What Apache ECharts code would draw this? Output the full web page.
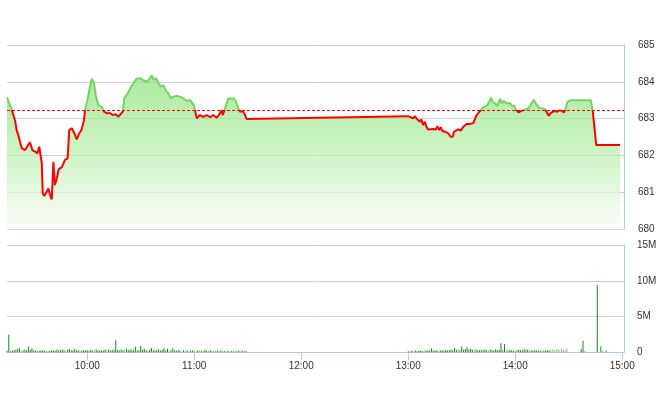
<!DOCTYPE html>
<html><head><meta charset="utf-8">
<script src="https://cdn.jsdelivr.net/npm/echarts@6/dist/echarts.min.js"></script>
<style>html,body{margin:0;padding:0;background:#fff}#c{width:660px;height:412px}</style>
</head><body><div id="c"></div>
<script>
// reference (previous close) level
const refPrice = 683.24;

// price line: time (minutes since midnight) and index value
const priceTimes = [555,557.6,559.5,560.4,561.3,563.2,565.1,566.0,567.9,569.2,570.7,572.0,573.1,573.9,574.5,575.0,575.9,577.3,578.2,579.1,580.1,581.0,581.9,582.9,584.0,585.7,587.5,589.0,589.9,591.3,592.6,594.1,595.5,596.7,598.2,598.7,600.0,601.2,602.5,603.8,604.9,606.2,608.1,609.4,610.9,612.8,614.3,616.1,617.4,618.8,619.9,620.8,622.1,624.0,625.8,627.7,629.6,631.4,633.4,635.2,636.2,637.4,638.6,639.9,641.2,642.7,644.2,645.5,646.8,648.3,650.2,652.0,653.9,655.8,657.6,659.5,660.4,661.4,663.2,665.1,667.0,668.9,670.5,672.6,674.1,675.4,676.0,677.3,679.1,681.0,682.3,683.4,684.7,685.7,687.2,688.5,689.4,690,
780,782.8,783.7,784.6,785.5,786.5,787.4,788.3,789.3,790.2,791.1,792.2,794.0,795.6,796.3,797.4,798.2,799.4,800.6,802.5,803.8,805.0,805.7,806.8,808.1,809.5,810.9,812.8,814.7,816.5,817.5,818.4,819.9,821.8,823.1,824.4,825.5,826.5,827.4,828.7,830.0,831.5,832.5,833.7,835.3,837.1,838.1,839.4,840.5,841.8,842.7,844.6,846.1,847.4,848.7,850.2,851.1,852.1,853.5,854.9,856.7,857.7,858.8,859.9,861.1,862.3,863.6,865.1,866.1,867.4,868.0,869.3,870.9,882.4,883.5,885.4,898.8];
const priceValues = [683.58,683.24,682.96,682.69,682.56,682.20,682.15,682.11,682.36,682.15,682.11,682.06,682.24,682.29,681.79,680.98,680.90,681.02,681.11,680.93,680.81,681.83,681.20,681.38,681.63,681.68,681.88,681.93,682.69,682.74,682.62,682.44,682.60,682.69,682.96,683.22,683.49,683.78,684.08,683.96,683.60,683.37,683.33,683.19,683.15,683.15,683.10,683.12,683.05,683.13,683.19,683.55,683.64,683.81,683.96,684.08,684.10,684.05,684.00,684.10,684.17,684.05,684.10,683.96,683.87,683.90,683.75,683.69,683.55,683.60,683.62,683.60,683.55,683.48,683.51,683.39,683.24,683.01,683.10,683.05,683.10,683.04,683.10,683.03,683.12,683.24,683.10,683.28,683.55,683.54,683.55,683.46,683.28,683.19,683.21,683.10,682.99,682.98,
683.07,683.01,683.07,683.01,683.05,682.92,682.98,682.83,682.92,682.78,682.71,682.69,682.72,682.71,682.80,682.69,682.77,682.65,682.65,682.60,682.51,682.51,682.65,682.62,682.71,682.68,682.78,682.86,682.86,682.88,683.01,683.10,683.19,683.30,683.33,683.37,683.46,683.57,683.46,683.42,683.35,683.54,683.42,683.48,683.42,683.42,683.35,683.35,683.24,683.17,683.21,683.24,683.26,683.28,683.37,683.51,683.48,683.37,683.30,683.28,683.26,683.21,683.08,683.15,683.19,683.21,683.19,683.24,683.19,683.17,683.24,683.46,683.50,683.50,683.19,682.29,682.29];

// per-minute volume (millions), morning session from 9:15, afternoon from 13:00
const amStart = 555;
const volAm = [0.20,2.50,0.15,0.25,0.30,0.35,0.50,0.55,0.30,0.25,0.35,0.30,0.80,0.35,0.55,0.30,0.25,0.30,0.20,0.25,0.30,0.20,0.15,0.25,0.20,0.30,0.25,0.20,0.35,0.25,0.30,0.40,0.30,0.25,0.35,0.45,0.30,0.25,0.45,0.20,0.30,0.25,0.20,0.30,0.25,0.30,0.20,0.35,0.25,0.30,0.40,0.25,0.30,0.20,0.25,0.35,0.30,0.40,0.25,0.30,0.35,1.70,0.30,0.25,0.40,0.30,0.35,0.45,0.30,0.40,0.30,0.35,0.80,0.25,0.30,0.90,0.35,0.50,0.30,0.25,0.35,0.60,0.30,0.25,0.30,0.40,0.25,0.35,0.55,0.30,0.50,0.25,0.30,0.55,0.25,0.20,0.30,0.25,0.15,0.30,0.20,0.25,0.15,0.20,0.25,0.30,0.20,0.25,0.30,0.20,0.25,0.35,0.20,0.25,0.30,0.20,0.15,0.25,0.20,0.30,0.25,0.20,0.15,0.25,0.20,0.15,0.20,0.25,0.15,0.20,0.25,0.15,0.20,0.25,0.20];
const pmStart = 780;
const volPm = [0.15,0.10,0.20,0.15,0.25,0.15,0.20,0.25,0.15,0.20,0.30,0.20,0.25,0.55,0.25,0.20,0.30,0.20,0.25,0.30,0.20,0.35,0.25,0.30,0.40,0.30,0.60,0.35,0.40,0.30,0.80,0.35,0.45,0.70,0.40,0.50,0.35,0.30,0.40,0.25,0.30,0.35,0.30,0.40,0.30,0.25,0.35,0.30,0.25,0.40,0.30,0.35,1.25,0.30,1.15,0.30,0.25,0.35,0.30,0.20,0.30,0.25,0.35,0.30,0.25,0.50,0.30,0.35,0.25,0.30,0.20,0.30,0.25,0.20,0.25,0.30,0.20,0.25,0.30,0.25,0.35,0.45,0.30,0.40,0.50,0.35,0.45,0.40,0.30,0.50,0,0,0,0,0,0,0,0.45,1.60,0.10,0,0,0,0,0,0,9.40,0,0.80,0.10,0,0.20,0,0,0,0,0,0.05,0,0];
// minutes whose volume bar is drawn in the lighter green
const lightAm = [8,17,23,33,41,49,56,66,79,91,98,100,102,105,106,108,110,113,115,117,119,121,123,125,127,129,131,133];
const lightPm = [3,9,17,28,37,45,55,60,68,75,80,81,82,83,84,85,86,87,88,89];

const hourTicks = [600,660,720,780,840,900];

function hhmm(m){const h=Math.floor(m/60),mm=Math.round(m%60);return h+':'+(mm<10?'0':'')+mm;}

const linePts = priceTimes.map((t,i)=>[t,priceValues[i]]);
const darkBars=[], lightBars=[];
function addBars(start, vols, lights){
  vols.forEach((v,i)=>{
    if(!v) return;
    (lights.indexOf(i)>=0?lightBars:darkBars).push([start+i, v]);
  });
}
addBars(amStart, volAm, lightAm);
addBars(pmStart, volPm, lightPm);

const axisBlue = '#b8cadf';
const gridGray = '#cfcfcf';
const labelStyle = {color:'#333', fontSize:10, fontFamily:'Liberation Sans, Arial, sans-serif'};

const chart = echarts.init(document.getElementById('c'), null, {renderer:'canvas'});
chart.setOption({
  animation:false,
  backgroundColor:'#fff',
  grid:[
    {left:7, right:36, top:45, height:184.3},
    {left:7, right:36, top:245, height:107.3}
  ],
  xAxis:[
    {gridIndex:0, type:'value', min:555, max:901, show:false, splitLine:{show:false}},
    {gridIndex:1, type:'value', min:555, max:901,
      axisLine:{show:true, lineStyle:{color:axisBlue, width:1}},
      axisTick:{show:true, customValues:hourTicks, length:8, lineStyle:{color:axisBlue}},
      axisLabel:Object.assign({customValues:hourTicks, margin:9, formatter:v=>hhmm(v)}, labelStyle),
      splitLine:{show:false}}
  ],
  yAxis:[
    {gridIndex:0, type:'value', position:'right', min:680, max:685, interval:1,
      axisLine:{show:true, lineStyle:{color:axisBlue}},
      axisTick:{show:false},
      axisLabel:Object.assign({margin:14, formatter:v=>String(v)}, labelStyle),
      splitLine:{show:true, lineStyle:{color:gridGray, width:1}}},
    {gridIndex:1, type:'value', position:'right', min:0, max:15, interval:5,
      axisLine:{show:true, lineStyle:{color:axisBlue}},
      axisTick:{show:false},
      axisLabel:Object.assign({margin:13, formatter:v=>v===0?'0':v+'M'}, labelStyle),
      splitLine:{show:true, lineStyle:{color:gridGray, width:1}}}
  ],
  visualMap:{
    show:false, type:'piecewise', seriesIndex:0, dimension:1,
    pieces:[{min:670, max:refPrice, color:'#ff0000'},{min:refPrice, max:700, color:'#6fd660'}],
    outOfRange:{color:'#6fd660'}
  },
  series:[
    {type:'line', xAxisIndex:0, yAxisIndex:0, data:linePts, showSymbol:false, symbol:'none',
      lineStyle:{width:2},
      areaStyle:{origin:'start', color:new echarts.graphic.LinearGradient(0,0,0,1,[
        {offset:0, color:'#8be27a'},
        {offset:0.45, color:'#b3eda6'},
        {offset:1, color:'#f8fdf7'}
      ])},
      markLine:{silent:true, symbol:'none', label:{show:false},
        lineStyle:{color:'#ff0000', type:[3,2], width:1},
        data:[{yAxis:refPrice}]}
    },
    {type:'bar', xAxisIndex:1, yAxisIndex:1, data:darkBars, barWidth:1, barGap:'-100%',
      itemStyle:{color:'#1a871a'}},
    {type:'bar', xAxisIndex:1, yAxisIndex:1, data:lightBars, barWidth:1, barGap:'-100%',
      itemStyle:{color:'#7fcb7f'}}
  ]
});
</script></body></html>
